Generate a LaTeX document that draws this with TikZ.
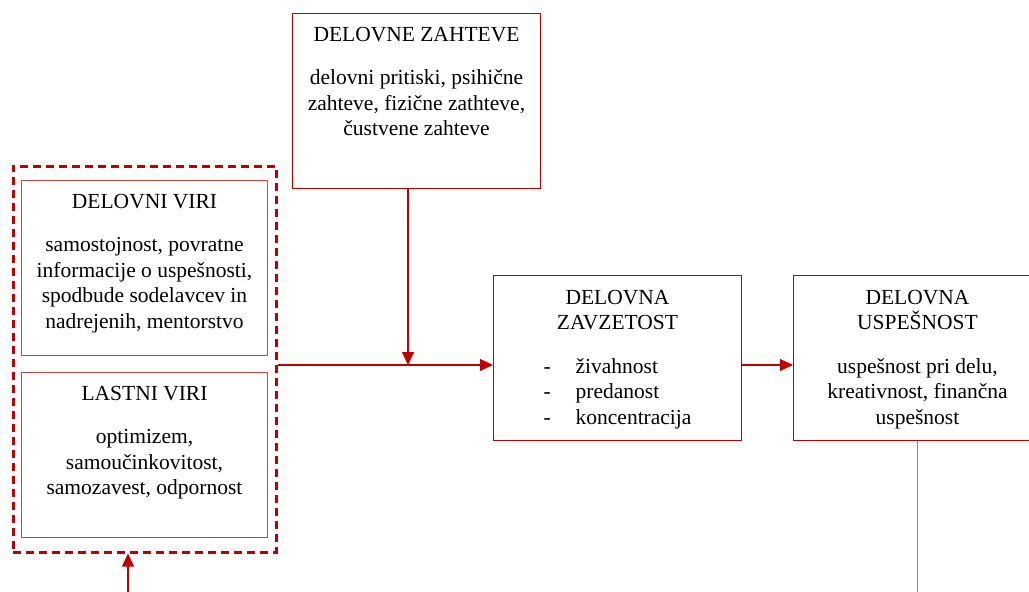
\documentclass[tikz,border=0pt]{standalone}
\usepackage{fontspec}
\setmainfont{Liberation Serif}
\usepackage{tikz}
\usetikzlibrary{positioning,arrows.meta}
\definecolor{rdeca}{RGB}{192,0,0}

\begin{document}
\begin{tikzpicture}[x=1pt,y=-1pt,
  okvir/.style={draw=rdeca, line width=1pt, minimum width=248pt, minimum height=165pt, anchor=north west, inner sep=0pt},
  notranji/.style={okvir, draw=rdeca!75, minimum width=246pt},
  crtkano/.style={draw=rdeca, line width=2.5pt, dash pattern=on 8pt off 5pt, minimum width=263pt, minimum height=386pt, anchor=north west, inner sep=0pt},
  besedilo/.style={align=center, inner sep=0pt, font=\fontsize{21.5}{25.5}\selectfont},
  puscica/.style={rdeca, line width=1.2pt, -{Triangle[length=13pt,width=12pt]}}]
  \clip (0,0) rectangle (1029,592);

  % okvirji
  \node[okvir, minimum height=175pt] (zahteve) at (292,13) {};
  \node[crtkano] (viri) at (12,165) {};
  \node[notranji, minimum height=175pt] (delovniviri) at (21,180) {};
  \node[notranji] (lastniviri) at (21,372) {};
  \node[okvir] (zavzetost) at (493,275) {};
  \node[okvir] (uspesnost) at (793,275) {};

  % besedila
  \node[besedilo, below=14pt of zahteve.north] (tzahteve) {DELOVNE ZAHTEVE\\[18pt]
    delovni pritiski, psihične\\ zahteve, fizične zathteve,\\ čustvene zahteve};
  \node[besedilo, below=14pt of delovniviri.north] (tdelovniviri) {DELOVNI VIRI\\[18pt]
    samostojnost, povratne\\ informacije o uspešnosti,\\ spodbude sodelavcev in\\ nadrejenih, mentorstvo};
  \node[besedilo, below=14pt of lastniviri.north] (tlastniviri) {LASTNI VIRI\\[18pt]
    optimizem,\\ samoučinkovitost,\\ samozavest, odpornost};
  \node[besedilo, below=15pt of zavzetost.north] (tzavzetost) {DELOVNA\\ ZAVZETOST\\[18pt]
    \begin{tabular}[t]{@{}l@{\hspace{25pt}}l@{}}
      - & živahnost\\
      - & predanost\\
      - & koncentracija
    \end{tabular}};
  \node[besedilo, below=15pt of uspesnost.north] (tuspesnost) {DELOVNA\\ USPEŠNOST\\[18pt]
    uspešnost pri delu,\\ kreativnost, finančna\\ uspešnost};

  % povezave
  \coordinate (stik) at (408,365);
  \coordinate (spodaj) at (128,592);
  \coordinate (rob) at (918,592);
  \draw[puscica] (stik |- zahteve.south) -- (stik);
  \draw[puscica] (viri.east |- stik) -- (zavzetost.west |- stik);
  \draw[puscica] (zavzetost.east |- stik) -- (uspesnost.west |- stik);
  \draw[rdeca!60, line width=1pt] (uspesnost.south) -- (uspesnost.south |- rob);
  \draw[puscica] (spodaj) -- (spodaj |- viri.south);
\end{tikzpicture}
\end{document}
